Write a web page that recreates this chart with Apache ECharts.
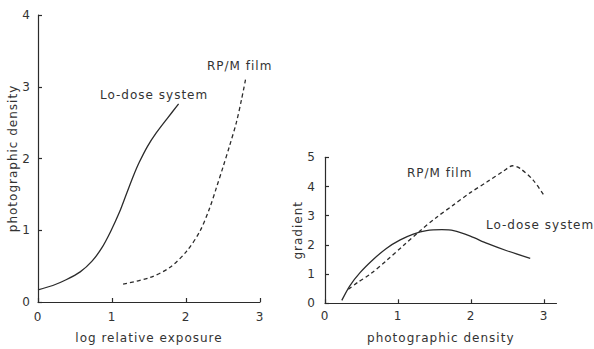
<!DOCTYPE html>
<html>
<head>
<meta charset="utf-8">
<script src="https://cdn.jsdelivr.net/npm/echarts@6/dist/echarts.min.js"></script>
<style>
  html, body { margin: 0; padding: 0; background: #ffffff; }
  #chart { width: 594px; height: 349px; }
  #chart text { letter-spacing: 1px; }
</style>
</head>
<body>
<div id="chart"></div>
<script>
// Characteristic curves: density vs log relative exposure
const charLoDoseX = [0, 0.2, 0.38, 0.57, 0.73, 0.86, 0.98, 1.1, 1.2, 1.29, 1.37, 1.48, 1.6, 1.74, 1.9];
const charLoDoseY = [0.17, 0.23, 0.31, 0.42, 0.57, 0.75, 0.98, 1.25, 1.52, 1.76, 1.95, 2.17, 2.36, 2.55, 2.76];
const charFilmX = [1.15, 1.51, 1.78, 2.01, 2.19, 2.32, 2.41, 2.5, 2.59, 2.68, 2.75, 2.81];
const charFilmY = [0.25, 0.34, 0.48, 0.71, 0.99, 1.31, 1.59, 1.88, 2.18, 2.5, 2.82, 3.13];

// Gradient vs photographic density
const gradLoDoseX = [0.23, 0.34, 0.48, 0.66, 0.84, 1.03, 1.21, 1.39, 1.6, 1.76, 1.99, 2.22, 2.49, 2.81];
const gradLoDoseY = [0.1, 0.6, 1.05, 1.5, 1.88, 2.17, 2.37, 2.49, 2.52, 2.49, 2.3, 2.05, 1.8, 1.54];
const gradFilmX = [0.32, 0.45, 0.62, 0.84, 1.07, 1.3, 1.53, 1.76, 1.99, 2.22, 2.44, 2.57, 2.67, 2.85, 3.01];
const gradFilmY = [0.48, 0.72, 1.0, 1.46, 1.97, 2.48, 2.95, 3.37, 3.79, 4.16, 4.52, 4.71, 4.62, 4.22, 3.65];

// Tick values
const leftXTicks = [0, 1, 2, 3];
const leftYTicks = [0, 1, 2, 3, 4];
const rightXTicks = [0, 1, 2, 3];
const rightYTicks = [0, 1, 2, 3, 4, 5];

const ink = '#2b2b2b';
const textInk = '#333333';
const font = 'DejaVu Sans';

const pairs = (xs, ys) => xs.map((x, i) => [x, ys[i]]);

function axisBase(name, gap, ticks, extra) {
  return Object.assign({
    type: 'value',
    name: name,
    nameLocation: 'middle',
    nameGap: gap,
    nameTextStyle: { color: textInk, fontFamily: font, fontSize: 12 },
    splitLine: { show: false },
    axisLine: { show: true, onZero: false, lineStyle: { color: ink, width: 1.2 } },
    axisTick: { show: true, inside: true, length: 4, customValues: ticks, lineStyle: { color: ink, width: 1.2 } },
    axisLabel: { color: textInk, fontFamily: font, fontSize: 12, customValues: ticks },
    min: 0,
    interval: 1
  }, extra);
}

function curve(xi, yi, data, dashed) {
  return {
    type: 'line',
    xAxisIndex: xi,
    yAxisIndex: yi,
    data: data,
    showSymbol: false,
    smooth: 0.3,
    silent: true,
    lineStyle: { color: ink, width: 1.3, type: dashed ? [4, 3] : 'solid' }
  };
}

function note(text, x, y) {
  return {
    type: 'text',
    left: x,
    top: y,
    style: { text: text, fill: textInk, font: '12px "DejaVu Sans"' }
  };
}

const chart = echarts.init(document.getElementById('chart'), null, { renderer: 'svg' });
chart.setOption({
  animation: false,
  backgroundColor: '#ffffff',
  grid: [
    { left: 38, top: 15, width: 222, height: 290 },
    { left: 325, top: 157.3, width: 231.5, height: 146 }
  ],
  xAxis: [
    axisBase('log relative exposure', 30, leftXTicks, { gridIndex: 0, max: 3, axisLabel: { color: textInk, fontFamily: font, fontSize: 12, margin: 9, customValues: leftXTicks } }),
    axisBase('photographic density', 29, rightXTicks, { gridIndex: 1, max: 3.17, axisLabel: { color: textInk, fontFamily: font, fontSize: 12, margin: 7, customValues: rightXTicks } })
  ],
  yAxis: [
    axisBase('photographic density', 14, leftYTicks, { gridIndex: 0, max: 4, axisLabel: { color: textInk, fontFamily: font, fontSize: 12, margin: 7, customValues: leftYTicks } }),
    axisBase('gradient', 20, rightYTicks, { gridIndex: 1, max: 5, axisLabel: { color: textInk, fontFamily: font, fontSize: 12, margin: 9, customValues: rightYTicks } })
  ],
  series: [
    curve(0, 0, pairs(charLoDoseX, charLoDoseY), false),
    curve(0, 0, pairs(charFilmX, charFilmY), true),
    curve(1, 1, pairs(gradLoDoseX, gradLoDoseY), false),
    curve(1, 1, pairs(gradFilmX, gradFilmY), true)
  ],
  graphic: [
    note('Lo-dose system', 100, 89),
    note('RP/M film', 207, 60),
    note('RP/M film', 407, 167),
    note('Lo-dose system', 486, 219)
  ]
});
</script>
</body>
</html>
